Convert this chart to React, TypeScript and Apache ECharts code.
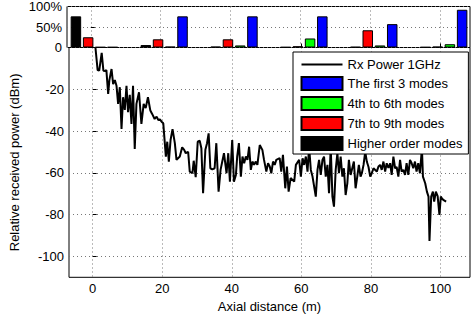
import React, { useEffect, useRef } from 'react';
import * as echarts from 'echarts';

// Rx power trace (axial distance in m, relative power in dBm)
const distance = [
  0.8, 1.43, 1.89, 2.6, 3.09, 3.6, 3.95, 4.46, 4.81, 5.43, 5.89, 6.38, 6.86, 7.32, 7.81, 8.3, 8.75, 9.24, 9.73, 10.18,
  10.67, 11.16, 11.61, 12.1, 12.59, 13.33, 14.02, 14.67, 15.25, 15.9, 16.59, 17.11, 17.82, 18.39, 18.88, 19.34, 19.82, 20.31, 21.05, 21.45,
  21.91, 22.4, 22.97, 23.63, 24.11, 25.06, 25.74, 26.32, 26.77, 27.46, 27.92, 28.69, 29.06, 29.63, 30.21, 30.78, 31.26, 31.75, 32.41, 32.89,
  33.35, 33.84, 34.41, 35.07, 35.56, 36.21, 36.78, 37.27, 37.76, 38.5, 38.99, 39.47, 40.13, 40.62, 41.19, 41.56, 42.05, 42.62, 43.08, 43.56,
  44.05, 44.51, 44.99, 45.48, 45.94, 46.42, 46.91, 47.37, 48.05, 48.8, 49.28, 49.94, 50.43, 50.92, 51.37, 51.86, 52.35, 52.8, 53.78, 54.23,
  54.72, 55.38, 55.86, 56.35, 56.92, 57.95, 58.44, 59.38, 59.87, 60.36, 60.81, 61.3, 61.78, 62.24, 62.73, 63.22, 64.16, 64.65, 65.1, 65.59,
  66.08, 66.53, 67.02, 67.51, 67.96, 68.45, 68.94, 69.39, 69.88, 70.37, 70.82, 71.31, 71.8, 72.25, 72.74, 73.23, 73.68, 74.17, 74.66, 75.11,
  75.6, 76.09, 76.54, 77.03, 77.4, 77.89, 78.38, 78.83, 79.32, 79.81, 80.26, 80.75, 81.24, 81.69, 82.18, 82.67, 83.12, 83.61, 84.1, 84.55,
  85.04, 85.53, 85.98, 86.47, 86.96, 87.41, 87.9, 88.39, 88.84, 89.33, 89.82, 90.27, 90.76, 91.25, 91.7, 92.19, 92.68, 93.13, 93.62, 94.11,
  94.68, 94.97, 95.62, 96.11, 96.57, 96.85, 97.34, 97.83, 98.2, 98.68, 99.2, 99.71, 100.11, 100.57, 101.06, 101.63,
];
const rxPower = [
  0, -10.8, -11.1, -2.6, -11.1, -11.2, -10.8, -22.2, -15.6, -10.3, -17.5, -15.6, -18.3, -27.0, -19.0, -39.0, -23.8, -29.9, -18.3, -31.0,
  -22.7, -36.6, -18.3, -48.6, -27.0, -21.4, -36.6, -27.0, -29.0, -23.8, -30.2, -31.8, -34.2, -33.1, -34.7, -34.4, -35.5, -36.3, -52.2, -45.1,
  -54.6, -44.3, -39.1, -45.8, -53.8, -52.2, -47.8, -49.0, -50.6, -49.9, -59.4, -60.2, -54.2, -62.1, -45.1, -44.6, -48.2, -69.8, -49.0, -45.8,
  -41.1, -57.8, -58.3, -57.8, -45.8, -69.0, -58.6, -54.6, -50.6, -60.2, -50.6, -64.2, -44.3, -64.2, -61.0, -52.2, -45.8, -61.8, -52.2, -55.4,
  -52.2, -53.8, -47.5, -58.6, -54.6, -56.2, -54.6, -56.2, -46.7, -49.0, -53.8, -59.4, -55.4, -57.0, -60.2, -54.6, -56.2, -53.8, -53.0, -59.4,
  -51.4, -67.4, -57.0, -69.0, -62.5, -64.2, -56.2, -53.8, -61.8, -53.0, -56.2, -52.2, -59.4, -47.5, -58.6, -61.8, -71.4, -58.6, -53.8, -61.0,
  -53.8, -52.2, -61.8, -56.2, -69.8, -47.5, -71.4, -76.2, -58.6, -50.6, -60.2, -52.2, -61.8, -57.8, -70.6, -65.0, -53.8, -61.0, -57.7, -54.6,
  -67.4, -61.8, -56.2, -61.8, -60.2, -56.2, -49.9, -54.6, -57.2, -61.8, -60.2, -57.8, -58.6, -59.4, -57.0, -56.2, -58.6, -54.6, -59.4, -55.4,
  -57.7, -55.4, -61.0, -52.2, -57.8, -57.2, -61.8, -53.8, -59.4, -58.6, -61.0, -55.4, -61.0, -53.8, -55.3, -57.8, -54.6, -59.4, -55.4, -60.2,
  -48.2, -61.8, -65.0, -69.0, -71.4, -92.6, -71.4, -69.0, -73.8, -69.0, -71.1, -80.1, -71.4, -72.6, -73.2, -73.8,
];

// Modal power distribution (%) at the measurement positions (m)
const modeDistances = [1, 21, 41, 61, 81, 101];
const higherOrder = [76, 6, 2, 1, 1.5, 1];
const sevenToNine = [25, 20, 20, 3, 42, 2];
const fourToSix = [1, 2, 5, 22, 5, 8];
const firstThree = [1, 76, 76, 76, 57, 92];

const xTicks = [0, 20, 40, 60, 80, 100];
const yTicks = [-100, -80, -60, -40, -20];
const barTicks = [0, 50, 100];

const FONT = '"Liberation Sans", Arial, Helvetica, sans-serif';
const X_MIN = -6.8;
const X_MAX = 108.5;
const BAR_STEP = 3.5; // m between bars of one group

export default function App() {
  const ref = useRef<HTMLDivElement>(null);

  useEffect(() => {
    if (!ref.current) return;
    const chart = echarts.init(ref.current, undefined, { renderer: 'svg' });

    const gridLine = { show: true, lineStyle: { color: '#777', width: 1, type: [1, 3] as any } };
    const tickStyle = { show: true, inside: true, length: 4, lineStyle: { color: '#000' } };
    const labelStyle = { color: '#000', fontSize: 13, fontFamily: FONT };

    const barGroups = [
      { name: 'Higher order modes', values: higherOrder, color: '#000000', k: -1.5 },
      { name: '7th to 9th modes', values: sevenToNine, color: '#ff0000', k: -0.5 },
      { name: '4th to 6th modes', values: fourToSix, color: '#00ff00', k: 0.5 },
      { name: 'The first 3 modes', values: firstThree, color: '#0000ff', k: 1.5 },
    ];

    const option: any = {
      animation: false,
      backgroundColor: '#fff',
      textStyle: { fontFamily: FONT },
      grid: [
        { left: 67, top: 6, width: 403, height: 41.5, show: true, borderColor: '#000', borderWidth: 1, backgroundColor: 'transparent' },
        { left: 67, top: 47.5, width: 403, height: 229.8, show: true, borderColor: '#000', borderWidth: 1, backgroundColor: 'transparent' },
      ],
      xAxis: [
        {
          type: 'value', gridIndex: 0, min: X_MIN, max: X_MAX,
          axisLine: { show: false },
          axisTick: { show: false, customValues: xTicks },
          axisLabel: { show: false, customValues: xTicks },
          splitLine: gridLine,
        },
        {
          type: 'value', gridIndex: 1, min: X_MIN, max: X_MAX,
          axisLine: { show: false },
          axisTick: { ...tickStyle, customValues: xTicks },
          axisLabel: { ...labelStyle, margin: 5, customValues: xTicks },
          splitLine: gridLine,
          name: 'Axial distance (m)', nameLocation: 'middle', nameGap: 20,
          nameTextStyle: { ...labelStyle },
        },
      ],
      yAxis: [
        {
          type: 'value', gridIndex: 0, min: 0, max: 100,
          axisLine: { show: false },
          axisTick: { ...tickStyle, customValues: barTicks },
          axisLabel: { ...labelStyle, margin: 5, customValues: barTicks, formatter: (v: number) => (v === 0 ? '0' : v + '%') },
          splitLine: { ...gridLine },
        },
        {
          type: 'value', gridIndex: 1, min: -110, max: 0,
          axisLine: { show: false },
          axisTick: { ...tickStyle, customValues: yTicks },
          axisLabel: { ...labelStyle, margin: 5, customValues: yTicks },
          splitLine: gridLine,
          name: 'Relative received power (dBm)', nameLocation: 'middle', nameGap: 48,
          nameTextStyle: { ...labelStyle },
        },
      ],
      legend: {
        orient: 'vertical', left: 293, top: 52,
        itemWidth: 41, itemHeight: 13, itemGap: 5,
        padding: [6, 6, 3, 7.5],
        backgroundColor: '#fff', borderColor: '#000', borderWidth: 1, borderRadius: 0,
        textStyle: { ...labelStyle },
        selectedMode: false,
        data: [
          { name: 'Rx Power 1GHz', itemStyle: { opacity: 0 } },
          { name: 'The first 3 modes', icon: 'rect' },
          { name: '4th to 6th modes', icon: 'rect' },
          { name: '7th to 9th modes', icon: 'rect' },
          { name: 'Higher order modes', icon: 'rect' },
        ],
      },
      series: [
        ...barGroups.map((g) => ({
          name: g.name,
          type: 'bar',
          xAxisIndex: 0, yAxisIndex: 0,
          barWidth: 10.5, barGap: '-100%',
          itemStyle: { color: g.color, borderColor: '#000', borderWidth: 1 },
          data: modeDistances.map((d, i) => [d + g.k * BAR_STEP, g.values[i]]),
        })),
        {
          name: 'Rx Power 1GHz',
          type: 'line',
          xAxisIndex: 1, yAxisIndex: 1,
          symbol: 'none', showSymbol: false,
          lineStyle: { color: '#000', width: 2 },
          itemStyle: { color: '#000' },
          clip: true,
          data: distance.map((d, i) => [d, rxPower[i]]),
        },
      ],
    };

    chart.setOption(option);
    return () => chart.dispose();
  }, []);

  return <div ref={ref} style={{ position: 'fixed', left: 0, top: 0, width: 471, height: 320 }} />;
}
